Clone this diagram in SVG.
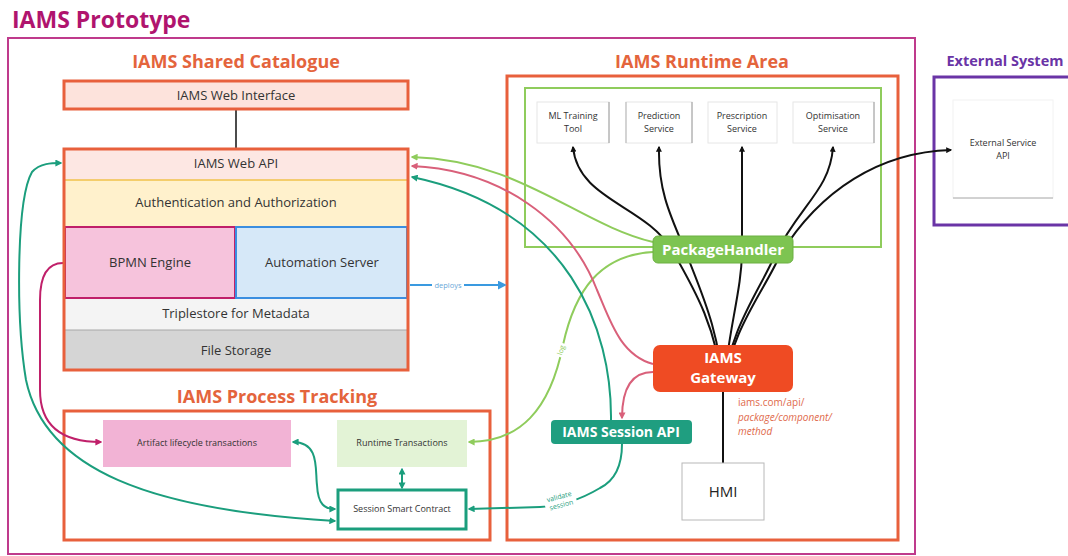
<svg xmlns="http://www.w3.org/2000/svg" width="1068" height="556" viewBox="0 0 1068 556">
  <style>
    text { font-family: "Open Sans", "Liberation Sans", sans-serif; }
    .h1 { font-size: 23px; font-weight: bold; fill: #b0146e; }
    .h2 { font-size: 18px; font-weight: bold; fill: #e4643c; }
    .h3 { font-size: 14.5px; font-weight: bold; fill: #6a34a6; }
    .area { fill: none; stroke: #e8603c; stroke-width: 3; }
    .lbl { font-size: 13px; fill: #333; text-anchor: middle; }
    .sm { font-size: 9px; fill: #333; text-anchor: middle; }
    .pill { font-weight: bold; fill: #fff; text-anchor: middle; }
    .conn { fill: none; stroke-width: 2; }
    .blk { stroke: #111; }
    .grn { stroke: #8fcc5c; }
    .red { stroke: #d9607a; }
    .teal { stroke: #1b9e7d; }
    .mag { stroke: #c0206a; }
    .blue { stroke: #3a9ae0; }
    .svc { fill: #fff; stroke: #e6e6e6; stroke-width: 1; }
    .url { font-size: 10px; fill: #e06a4c; }
  </style>
  <defs>
    <marker id="aBlk" viewBox="0 0 10 10" refX="8" refY="5" markerWidth="6" markerHeight="6" orient="auto-start-reverse" markerUnits="userSpaceOnUse">
      <path d="M0,0 L10,5 L0,10 z" fill="#111"/>
    </marker>
    <marker id="aGrn" viewBox="0 0 10 10" refX="8" refY="5" markerWidth="7" markerHeight="7" orient="auto-start-reverse" markerUnits="userSpaceOnUse">
      <path d="M0,0 L10,5 L0,10 z" fill="#8fcc5c"/>
    </marker>
    <marker id="aRed" viewBox="0 0 10 10" refX="8" refY="5" markerWidth="7" markerHeight="7" orient="auto-start-reverse" markerUnits="userSpaceOnUse">
      <path d="M0,0 L10,5 L0,10 z" fill="#d9607a"/>
    </marker>
    <marker id="aTeal" viewBox="0 0 10 10" refX="8" refY="5" markerWidth="7" markerHeight="7" orient="auto-start-reverse" markerUnits="userSpaceOnUse">
      <path d="M0,0 L10,5 L0,10 z" fill="#1b9e7d"/>
    </marker>
    <marker id="aMag" viewBox="0 0 10 10" refX="8" refY="5" markerWidth="7" markerHeight="7" orient="auto-start-reverse" markerUnits="userSpaceOnUse">
      <path d="M0,0 L10,5 L0,10 z" fill="#c0206a"/>
    </marker>
    <marker id="aBlue" viewBox="0 0 10 10" refX="8" refY="5" markerWidth="9" markerHeight="9" orient="auto-start-reverse" markerUnits="userSpaceOnUse">
      <path d="M0,0 L10,5 L0,10 z" fill="#3a9ae0"/>
    </marker>
  </defs>

  <rect width="1068" height="556" fill="#fff"/>

  <!-- containers -->
  <g id="prototype">
    <text class="h1" x="12" y="28">IAMS Prototype</text>
    <rect x="8" y="38" width="907" height="516" fill="none" stroke="#bf3a8c" stroke-width="2"/>
  </g>
  <g id="shared-catalogue-title">
    <text class="h2" x="236" y="68" text-anchor="middle">IAMS Shared Catalogue</text>
  </g>
  <g id="runtime-area">
    <text class="h2" x="702" y="68" text-anchor="middle">IAMS Runtime Area</text>
    <rect class="area" x="507" y="76" width="391" height="464"/>
    <rect x="525" y="88" width="356" height="159" fill="none" stroke="#8fcc5c" stroke-width="2"/>
  </g>
  <g id="process-tracking">
    <text class="h2" x="277" y="403" text-anchor="middle">IAMS Process Tracking</text>
    <rect class="area" x="64" y="411" width="426" height="129" stroke-width="2.5"/>
  </g>
  <g id="external-system">
    <text class="h3" x="1005" y="66" text-anchor="middle">External System</text>
    <rect x="934" y="77" width="140" height="148" fill="none" stroke="#6a34a6" stroke-width="3"/>
  </g>

  <!-- connectors -->
  <g id="connectors">
    <line x1="236" y1="109" x2="236" y2="149" stroke="#111" stroke-width="1.5"/>
    <!-- gateway fan-out to services -->
    <path class="conn blk" marker-end="url(#aBlk)" d="M723,463 L723,392 C718,330 695,290 672,250 C645,205 578,200 573,147"/>
    <path class="conn blk" marker-end="url(#aBlk)" d="M723,463 L723,392 C720,330 700,290 685,250 C670,215 658,190 659,147"/>
    <path class="conn blk" marker-end="url(#aBlk)" d="M723,463 L723,392 C728,330 742,290 742,250 L742,147"/>
    <path class="conn blk" marker-end="url(#aBlk)" d="M723,463 L723,392 C728,330 760,290 775,255 C800,205 830,190 833,147"/>
    <path class="conn blk" marker-end="url(#aBlk)" d="M723,463 L723,392 C730,330 765,290 780,255 C820,190 880,152 951,150"/>
    <!-- deploys -->
    <path class="conn blue" marker-end="url(#aBlue)" d="M410,285 L505,285"/>
    <rect x="432" y="280" width="32" height="10" fill="#fff"/>
    <text x="448" y="288" font-size="7.5" fill="#6aa8d8" text-anchor="middle">deploys</text>
    <!-- package handler to web api -->
    <path class="conn grn" marker-end="url(#aGrn)" d="M653,242 C580,225 520,160 412,157"/>
    <!-- package handler log to runtime transactions -->
    <path class="conn grn" marker-end="url(#aGrn)" d="M653,252 C600,255 575,290 563,345 C550,410 520,442 469,442"/>
    <g transform="translate(561,350) rotate(-72)">
      <rect x="-7" y="-5" width="14" height="9" fill="#fff"/>
      <text x="0" y="2.5" font-size="7" fill="#8fcc5c" text-anchor="middle">log</text>
    </g>
    <!-- gateway to web api and session api -->
    <path class="conn red" marker-end="url(#aRed)" d="M653,364 C620,355 610,320 597,290 C570,220 500,170 412,166"/>
    <path class="conn red" marker-end="url(#aRed)" d="M653,372 C630,372 622,390 622,418"/>
    <!-- session api to web api -->
    <path class="conn teal" marker-end="url(#aTeal)" d="M611,420 C612,330 570,210 412,177"/>
    <!-- validate session -->
    <path class="conn teal" marker-end="url(#aTeal)" d="M622,444 C622,470 612,482 600,488 C580,500 560,506 540,507 L469,509"/>
    <g transform="translate(560,500) rotate(-15)">
      <rect x="-16" y="-9" width="32" height="19" fill="#fff"/>
      <text x="0" y="-1" font-size="7" fill="#1b9e7d" text-anchor="middle">validate</text>
      <text x="0" y="7.5" font-size="7" fill="#1b9e7d" text-anchor="middle">session</text>
    </g>
    <!-- smart contract links -->
    <path class="conn teal" marker-start="url(#aTeal)" marker-end="url(#aTeal)" d="M335,521 C150,510 45,470 26,380 C16,320 16,200 32,172 C40,163 52,163 61,163"/>
    <path class="conn teal" marker-start="url(#aTeal)" marker-end="url(#aTeal)" d="M293,442 C320,442 315,470 317,485 C318,505 325,509 335,509"/>
    <path class="conn teal" marker-start="url(#aTeal)" marker-end="url(#aTeal)" d="M402,469 L402,488"/>
    <!-- bpmn engine to artifact lifecycle -->
    <path class="conn mag" marker-end="url(#aMag)" d="M63,263 C45,263 40,280 40,300 L40,390 C40,425 60,442 101,442"/>
  </g>

  <!-- shared catalogue stack -->
  <g id="web-interface">
    <rect x="64" y="81" width="344" height="28" fill="#fde3dc" stroke="#e8603c" stroke-width="3"/>
    <text class="lbl" x="236" y="100">IAMS Web Interface</text>
  </g>
  <g id="web-api">
    <rect x="64" y="149" width="344" height="31" fill="#fde7e3"/>
    <text class="lbl" x="236" y="168">IAMS Web API</text>
  </g>
  <g id="auth">
    <rect x="64" y="180" width="344" height="47" fill="#fff1cc"/>
    <line x1="64" y1="180" x2="408" y2="180" stroke="#f0c24b" stroke-width="1.5"/>
    <text class="lbl" x="236" y="207">Authentication and Authorization</text>
  </g>
  <g id="bpmn-engine">
    <rect x="65" y="227" width="170" height="71" fill="#f6c3dc" stroke="#c0206a" stroke-width="2"/>
    <text class="lbl" x="150" y="267">BPMN Engine</text>
  </g>
  <g id="automation-server">
    <rect x="236" y="227" width="171" height="71" fill="#d6e8f8" stroke="#3b8ee0" stroke-width="2"/>
    <text class="lbl" x="322" y="267">Automation Server</text>
  </g>
  <g id="triplestore">
    <rect x="64" y="299" width="344" height="31" fill="#f4f4f4"/>
    <text class="lbl" x="236" y="318">Triplestore for Metadata</text>
  </g>
  <g id="file-storage">
    <rect x="64" y="330" width="344" height="40" fill="#d5d5d5"/>
    <line x1="64" y1="330" x2="408" y2="330" stroke="#a8a8a8" stroke-width="1"/>
    <text class="lbl" x="236" y="355">File Storage</text>
  </g>
  <g id="catalogue-frame">
    <rect x="64" y="149" width="344" height="221" fill="none" stroke="#e8603c" stroke-width="3"/>
  </g>

  <!-- runtime services -->
  <g id="ml-training-tool">
    <rect class="svc" x="537" y="102" width="72" height="41"/>
    <line x1="609" y1="102" x2="609" y2="143" stroke="#9a9a9a"/>
    <text class="sm" x="573" y="119">ML Training</text>
    <text class="sm" x="573" y="132">Tool</text>
  </g>
  <g id="prediction-service">
    <rect class="svc" x="626" y="102" width="66" height="41"/>
    <line x1="626" y1="102" x2="626" y2="143" stroke="#b5b5b5"/>
    <line x1="692" y1="102" x2="692" y2="143" stroke="#9a9a9a"/>
    <text class="sm" x="659" y="119">Prediction</text>
    <text class="sm" x="659" y="132">Service</text>
  </g>
  <g id="prescription-service">
    <rect class="svc" x="708" y="102" width="69" height="41"/>
    <text class="sm" x="742" y="119">Prescription</text>
    <text class="sm" x="742" y="132">Service</text>
  </g>
  <g id="optimisation-service">
    <rect class="svc" x="793" y="102" width="81" height="41"/>
    <line x1="874" y1="102" x2="874" y2="143" stroke="#9a9a9a"/>
    <text class="sm" x="833" y="119">Optimisation</text>
    <text class="sm" x="833" y="132">Service</text>
  </g>
  <g id="package-handler">
    <rect x="653" y="236" width="140" height="27" rx="5" fill="#7dc451" stroke="#6cb043" stroke-width="1"/>
    <text class="pill" x="723" y="255" font-size="15">PackageHandler</text>
  </g>
  <g id="iams-gateway">
    <rect x="653" y="345" width="140" height="47" rx="7" fill="#ef4b23"/>
    <text class="pill" x="723" y="363" font-size="15">IAMS</text>
    <text class="pill" x="723" y="383" font-size="15">Gateway</text>
  </g>
  <g id="gateway-url">
    <text class="url" x="738" y="406">iams.com/api/</text>
    <text class="url" x="738" y="421" font-style="italic">package/component/</text>
    <text class="url" x="738" y="435" font-style="italic">method</text>
  </g>
  <g id="session-api">
    <rect x="551" y="420" width="141" height="24" rx="4" fill="#1f9e80"/>
    <text class="pill" x="621" y="437" font-size="14">IAMS Session API</text>
  </g>
  <g id="hmi">
    <rect x="682" y="463" width="82" height="57" fill="#fff" stroke="#b8b8b8" stroke-width="1"/>
    <text x="723" y="497" font-size="15" fill="#222" text-anchor="middle">HMI</text>
  </g>

  <!-- process tracking -->
  <g id="artifact-lifecycle">
    <rect x="103" y="420" width="188" height="47" fill="#f2b3d5"/>
    <text class="sm" x="197" y="446">Artifact lifecycle transactions</text>
  </g>
  <g id="runtime-transactions">
    <rect x="337" y="420" width="130" height="47" fill="#e3f3d6"/>
    <text class="sm" x="402" y="446">Runtime Transactions</text>
  </g>
  <g id="session-smart-contract">
    <rect x="338" y="490" width="128" height="39" fill="#fff" stroke="#1b9e7d" stroke-width="3"/>
    <text class="sm" x="402" y="512">Session Smart Contract</text>
  </g>

  <!-- external -->
  <g id="external-service-api">
    <rect x="953" y="100" width="100" height="98" fill="#fff" stroke="#f2f2f2" stroke-width="1"/>
    <line x1="953" y1="198" x2="1053" y2="198" stroke="#aaa" stroke-width="1"/>
    <text class="sm" x="1003" y="146">External Service</text>
    <text class="sm" x="1003" y="159">API</text>
  </g>
</svg>
